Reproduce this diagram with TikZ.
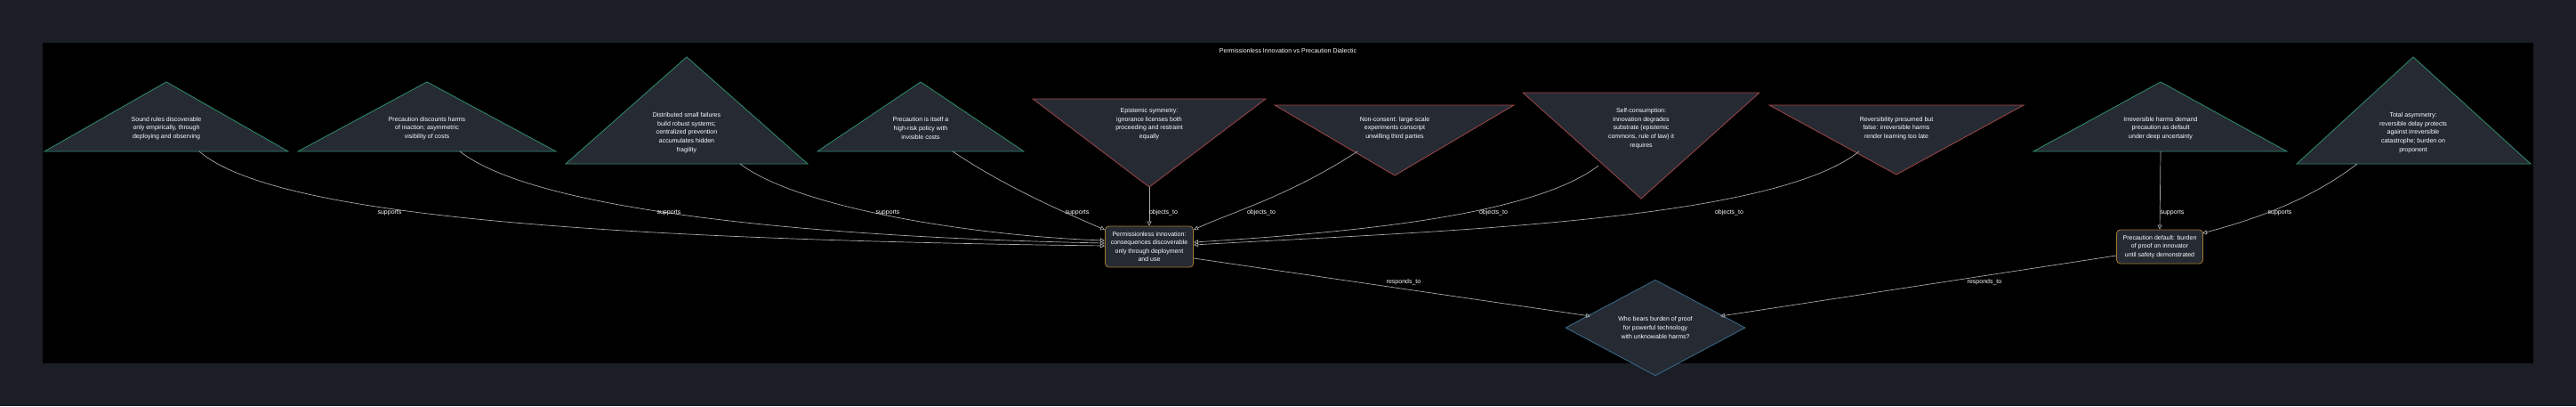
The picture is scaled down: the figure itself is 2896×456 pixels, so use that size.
\documentclass[tikz,border=0pt]{standalone}
\usepackage{fontspec}
\setmainfont{Liberation Sans}
\usetikzlibrary{arrows.meta,shapes.geometric}
\definecolor{outer}{HTML}{1B1E25}
\definecolor{nfill}{HTML}{262A33}
\definecolor{grn}{HTML}{2F8F6F}
\definecolor{rd}{HTML}{A04848}
\definecolor{org}{HTML}{A07A30}
\definecolor{blu}{HTML}{3A6E8C}
\definecolor{edg}{HTML}{A8A8A8}
\begin{document}
\begin{tikzpicture}[x=1pt,y=-1pt,
  txt/.style={align=center,text=white,font=\fontsize{7}{9.6}\selectfont},
  pro/.style={draw=grn,fill=nfill,line width=0.8pt},
  con/.style={draw=rd,fill=nfill,line width=0.8pt},
  box/.style={draw=org,fill=nfill,rounded corners=4pt,line width=0.8pt,minimum width=99pt,minimum height=46pt,txt},
  edge/.style={draw=edg,line width=0.7pt,-{Triangle[open,length=5pt,width=5pt]}},
  lab/.style={txt,inner sep=1pt}]
\fill[outer] (0,0) rectangle (2896,456);
\fill[black] (48,48) rectangle (2848,408);
\node[txt] (title) at (1448,57) {Permissionless Innovation vs Precaution Dialectic};
% up triangles
\filldraw[pro] (187,92) -- (324,170) -- (50,170) -- cycle;
\node[txt] (t1) at (187,144) {Sound rules discoverable\\only empirically, through\\deploying and observing};
\filldraw[pro] (480,92) -- (625,170) -- (335,170) -- cycle;
\node[txt] (t2) at (480,144) {Precaution discounts harms\\of inaction; asymmetric\\visibility of costs};
\filldraw[pro] (772,64) -- (908,184) -- (636,184) -- cycle;
\node[txt] (t3) at (772,149) {Distributed small failures\\build robust systems;\\centralized prevention\\accumulates hidden\\fragility};
\filldraw[pro] (1035,92) -- (1151,170) -- (919,170) -- cycle;
\node[txt] (t4) at (1035,144) {Precaution is itself a\\high-risk policy with\\invisible costs};
\filldraw[pro] (2429,92) -- (2571,170) -- (2286,170) -- cycle;
\node[txt] (t9) at (2429,144) {Irreversible harms demand\\precaution as default\\under deep uncertainty};
\filldraw[pro] (2713,64) -- (2845,184) -- (2582,184) -- cycle;
\node[txt] (t10) at (2713,149) {Total asymmetry:\\reversible delay protects\\against irreversible\\catastrophe; burden on\\proponent};
% down triangles
\filldraw[con] (1161,111) -- (1423,111) -- (1292,210) -- cycle;
\node[txt] (t5) at (1292,139) {Epistemic symmetry:\\ignorance licenses both\\proceeding and restraint\\equally};
\filldraw[con] (1433,118) -- (1702,118) -- (1568,197) -- cycle;
\node[txt] (t6) at (1568,144) {Non-consent: large-scale\\experiments conscript\\unwilling third parties};
\filldraw[con] (1712,104) -- (1978,104) -- (1845,223) -- cycle;
\node[txt] (t7) at (1845,144) {Self-consumption:\\innovation degrades\\substrate (epistemic\\commons, rule of law) it\\requires};
\filldraw[con] (1989,118) -- (2275,118) -- (2132,196) -- cycle;
\node[txt] (t8) at (2132,144) {Reversibility presumed but\\false: irreversible harms\\render learning too late};
% edge start points
\coordinate (s1) at (224,170);
\coordinate (s2) at (517,170);
\coordinate (s3) at (832,184);
\coordinate (s4) at (1071,170);
\coordinate (s5) at (1292,210);
\coordinate (s6) at (1526,170);
\coordinate (s7) at (1797,186);
\coordinate (s8) at (2090,170);
\coordinate (s9) at (2429,170);
\coordinate (s10) at (2650,184);
% central nodes
\node[box] (A) at (1292,277) {Permissionless innovation:\\consequences discoverable\\only through deployment\\and use};
\node[box,minimum width=97pt,minimum height=38pt] (B) at (2428,277) {Precaution default: burden\\of proof on innovator\\until safety demonstrated};
\node[diamond,draw=blu,fill=nfill,line width=0.8pt,minimum width=202pt,minimum height=74pt,inner sep=0pt,txt] (Q) at (1861,368) {Who bears burden of proof\\for powerful technology\\with unknowable harms?};
\coordinate (a1) at (1242,276);
\coordinate (a2) at (1242,273);
\coordinate (a3) at (1242,270);
\coordinate (a4) at (1242,258);
\coordinate (a6) at (1342,258);
\coordinate (a7) at (1342,272);
\coordinate (a8) at (1342,275);
\coordinate (b10) at (2476,262);
\coordinate (ao) at (1342,290);
\coordinate (bo) at (2379,287);
\coordinate (q1) at (1788,355);
\coordinate (q2) at (1934,355);
% edges
\draw[edge] (s1) .. controls (300,235) and (600,268) .. (a1);
\draw[edge] (s2) .. controls (600,235) and (900,266) .. (a2);
\draw[edge] (s3) .. controls (900,235) and (1100,265) .. (a3);
\draw[edge] (s4) .. controls (1130,210) and (1200,240) .. (a4);
\draw[edge] (s5) -- (A.north);
\draw[edge] (s6) .. controls (1450,220) and (1380,240) .. (a6);
\draw[edge] (s7) .. controls (1720,245) and (1500,262) .. (a7);
\draw[edge] (s8) .. controls (1990,250) and (1600,260) .. (a8);
\draw[edge] (s9) -- (B.north);
\draw[edge] (s10) .. controls (2590,230) and (2520,250) .. (b10);
\draw[edge] (ao) -- (q1);
\draw[edge] (bo) -- (q2);
% labels
\node[lab] (l1) at (438,239) {supports};
\node[lab] (l2) at (752,239) {supports};
\node[lab] (l3) at (998,239) {supports};
\node[lab] (l4) at (1211,239) {supports};
\node[lab] (l5) at (1308,239) {objects\_to};
\node[lab] (l6) at (1418,239) {objects\_to};
\node[lab] (l7) at (1679,239) {objects\_to};
\node[lab] (l8) at (1944,239) {objects\_to};
\node[lab] (l9) at (2442,239) {supports};
\node[lab] (l10) at (2563,239) {supports};
\node[lab] (l11) at (1578,317) {responds\_to};
\node[lab] (l12) at (2231,317) {responds\_to};
\end{tikzpicture}
\end{document}
